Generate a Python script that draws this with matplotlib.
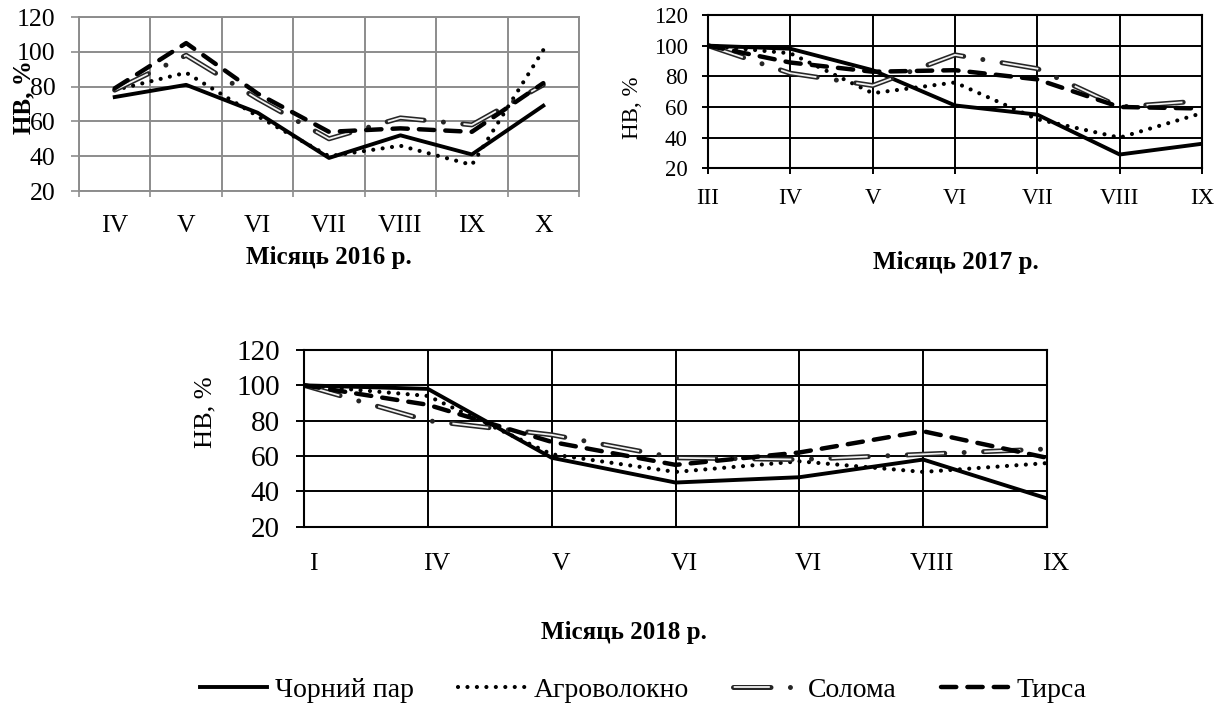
import matplotlib
matplotlib.use('Agg')
import matplotlib.pyplot as plt
import matplotlib.transforms as mtransforms
from matplotlib.lines import Line2D
import numpy as np

plt.rcParams['font.family'] = ['Liberation Serif', 'DejaVu Serif']
plt.rcParams['lines.scale_dashes'] = False

# дані, зчитані з графіків (НВ, %)
months_2016 = ['IV', 'V', 'VI', 'VII', 'VIII', 'IX', 'X']
pair_2016 = [74, 81, 65, 39, 52, 41, 69]
agro_2016 = [78, 88, 63, 40, 46, 35, 101]
straw_2016 = [78, 98, 73, 50, 62, 58, 81]
sawdust_2016 = [79, 105, 76, 54, 56, 54, 82]

months_2017 = ['III', 'IV', 'V', 'VI', 'VII', 'VIII', 'IX']
pair_2017 = [100, 98, 84, 61, 55, 29, 36]
agro_2017 = [100, 95, 69, 76, 52, 40, 56]
straw_2017 = [100, 82, 74, 94, 85, 60, 64]
sawdust_2017 = [100, 89, 83, 84, 78, 60, 59]

months_2018 = ['I', 'IV', 'V', 'VI', 'VI', 'VIII', 'IX']
pair_2018 = [100, 98, 59, 45, 48, 58, 36]
agro_2018 = [100, 94, 61, 51, 57, 51, 56]
straw_2018 = [100, 80, 72, 59, 58, 61, 64]
sawdust_2018 = [100, 89, 68, 55, 62, 74, 59]

names = ['Чорний пар', 'Агроволокно', 'Солома', 'Тирса']

W, H = 1227, 708
GRAY = '#8c8c8c'

# стилі ліній
PAIR = dict(color='black', lw=2.8, solid_joinstyle='round')
AGRO = dict(color='black', lw=3.0, linestyle=(0, (0.01, 6.8)), dash_capstyle='round')
STRAW_OUT = dict(color='#262626', lw=3.6, linestyle=(0, (27, 14, 0.01, 14)), dash_capstyle='round')
STRAW_IN = dict(color='#f2f2f2', lw=1.3, linestyle=(54.51, (26, 29.01)), dash_capstyle='butt')
SAW = dict(color='black', lw=3.2, linestyle=(0, (11, 8)), dash_capstyle='round')


def draw_series(ax, pair, agro, straw, saw):
    x = np.arange(len(pair))
    ax.plot(x, pair, **PAIR)
    ax.plot(x, agro, **AGRO)
    ax.plot(x, straw, **STRAW_OUT)
    ax.plot(x, straw, **STRAW_IN)
    ax.plot(x, saw, **SAW)
    return x


fig = plt.figure(figsize=(W / 100, H / 100), dpi=100)

# --- 2016 ---
ax1 = fig.add_axes([79 / W, 1 - 191 / H, 500 / W, 174 / H])
x1 = draw_series(ax1, pair_2016, agro_2016, straw_2016, sawdust_2016)
ax1.set_xlim(-0.5, len(x1) - 0.5)
ax1.set_ylim(20, 120)
ax1.set_yticks(range(20, 121, 20))
ax1.set_xticks(x1)
ax1.set_xticklabels(months_2016)
ax1.set_xticks(np.arange(-0.5, len(x1), 1), minor=True)
ax1.tick_params(axis='x', which='major', length=0, pad=17, labelsize=18.5)
ax1.tick_params(axis='x', which='minor', length=4.3, width=1.2, color=GRAY, direction='out')
ax1.tick_params(axis='y', length=5.8, width=1.2, color=GRAY, pad=11, labelsize=18.5)
ax1.grid(which='minor', axis='x', color=GRAY, lw=1.4)
ax1.grid(which='major', axis='y', color=GRAY, lw=1.4)
ax1.set_axisbelow(True)
for s in ax1.spines.values():
    s.set_color(GRAY)
    s.set_linewidth(1.4)

# --- 2017 ---
ax2 = fig.add_axes([708 / W, 1 - 168.3 / H, 494 / W, 153.3 / H])
x2 = draw_series(ax2, pair_2017, agro_2017, straw_2017, sawdust_2017)
ax2.set_xlim(0, len(x2) - 1)
ax2.set_ylim(20, 120)
ax2.set_yticks(range(20, 121, 20))
ax2.set_xticks(x2)
ax2.set_xticklabels(months_2017)
ax2.tick_params(axis='x', length=4.5, width=1.4, pad=10, labelsize=16.5)
ax2.tick_params(axis='y', length=4.5, width=1.4, pad=10, labelsize=16.5)
ax2.grid(color='black', lw=1.4)
ax2.set_axisbelow(True)
for s in ax2.spines.values():
    s.set_linewidth(1.5)

# --- 2018 ---
ax3 = fig.add_axes([304 / W, 1 - 526.7 / H, 743 / W, 176.7 / H])
x3 = draw_series(ax3, pair_2018, agro_2018, straw_2018, sawdust_2018)
ax3.set_xlim(0, len(x3) - 1)
ax3.set_ylim(20, 120)
ax3.set_yticks(range(20, 121, 20))
ax3.set_xticks(x3)
ax3.set_xticklabels(months_2018)
ax3.tick_params(axis='x', length=0, pad=19, labelsize=18.5)
ax3.tick_params(axis='y', length=5.8, width=1.4, pad=11.5, labelsize=21)
ax3.grid(color='black', lw=1.4)
ax3.set_axisbelow(True)
for s in ax3.spines.values():
    s.set_linewidth(1.5)
shift = mtransforms.ScaledTranslation(9 / 100, 0, fig.dpi_scale_trans)
for lbl in ax3.get_xticklabels():
    lbl.set_transform(lbl.get_transform() + shift)

# підписи осей
fig.text(24 / W, 1 - 97 / H, 'НВ, %', rotation=90, ha='center', va='center',
         fontsize=18, fontweight='bold')
fig.text(633 / W, 1 - 108 / H, 'НВ, %', rotation=90, ha='center', va='center', fontsize=16.5)
fig.text(205 / W, 1 - 412 / H, 'НВ, %', rotation=90, ha='center', va='center', fontsize=19)

fig.text(329 / W, 1 - 257 / H, 'Місяць 2016 р.', ha='center', va='center',
         fontsize=18, fontweight='bold')
fig.text(956 / W, 1 - 262 / H, 'Місяць 2017 р.', ha='center', va='center',
         fontsize=18, fontweight='bold')
fig.text(624 / W, 1 - 632 / H, 'Місяць 2018 р.', ha='center', va='center',
         fontsize=18, fontweight='bold')

# легенда
h_pair = Line2D([], [], **PAIR)
h_agro = Line2D([], [], **AGRO)
h_straw = (Line2D([], [], **STRAW_OUT), Line2D([], [], **STRAW_IN))
h_saw = Line2D([], [], **SAW)
fig.legend([h_pair, h_agro, h_straw, h_saw], names, loc='center',
           bbox_to_anchor=(643 / W, 1 - 690 / H), ncol=4, frameon=False,
           fontsize=20, handlelength=2.4, handletextpad=0.3, columnspacing=1.6)

fig.savefig('out.png', dpi=100)
